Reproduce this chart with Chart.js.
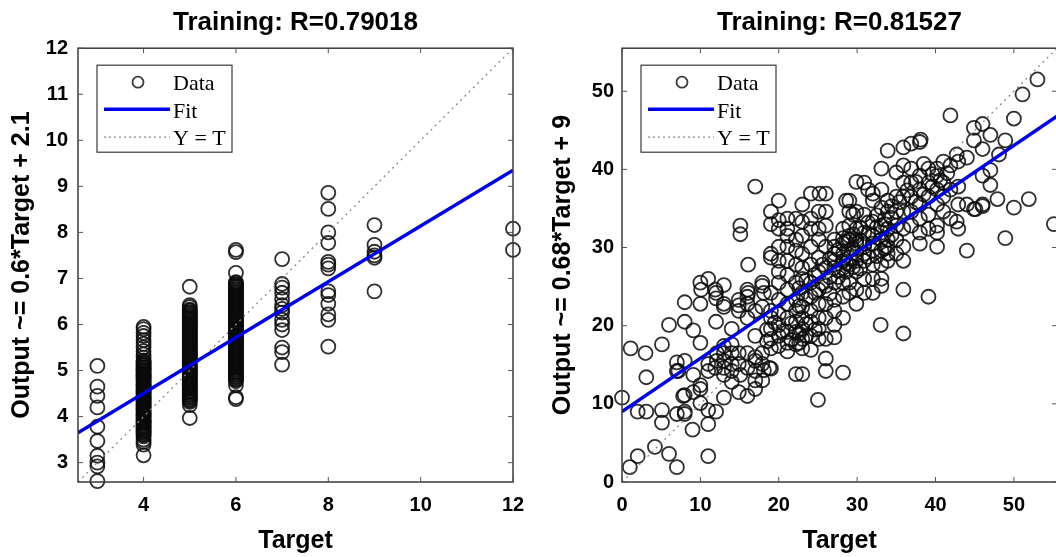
<!DOCTYPE html>
<html>
<head>
<meta charset="utf-8">
<script src="https://cdn.jsdelivr.net/npm/chart.js@4.4.0/dist/chart.umd.min.js"></script>
<style>
  html, body { margin: 0; padding: 0; background: #fff; overflow: hidden; width: 1056px; height: 557px; }
  #c1 { position: absolute; left: 0; top: 0; }
  #c2 { position: absolute; left: 528px; top: 0; }
</style>
</head>
<body>
<canvas id="c1" width="528" height="557"></canvas>
<canvas id="c2" width="540" height="557"></canvas>
<script>
const SANS = "'Liberation Sans', Arial, sans-serif";
const SERIF = "'Liberation Serif', 'Times New Roman', serif";

// ---- left panel ----
const leftTitle = 'Training: R=0.79018';
const leftYLabel = 'Output ~= 0.6*Target + 2.1';
const leftRange = [2.58, 12];
const leftXTicks = [4, 6, 8, 10, 12];
const leftYTicks = [3, 4, 5, 6, 7, 8, 9, 10, 11, 12];
const leftTargets = [3, 4, 5, 6, 7, 8, 9, 12];
const leftOutputs = [
  [5.1, 4.65, 4.45, 4.2, 3.78, 3.47, 3.15, 3.0, 2.92, 2.6],
  [5.95, 5.9, 5.82, 5.75, 5.66, 5.58, 5.5, 5.42, 5.35, 5.28,
   5.22, 5.2, 5.17, 5.15, 5.12, 5.1, 5.07, 5.05, 5.02, 5.0, 4.97, 4.95, 4.92, 4.9, 4.87, 4.85, 4.82, 4.8,
   4.77, 4.75, 4.72, 4.7, 4.67, 4.65, 4.62, 4.6, 4.57, 4.55, 4.52, 4.5, 4.47, 4.45, 4.42, 4.4, 4.37, 4.35,
   4.32, 4.3, 4.27, 4.25, 4.22, 4.2, 4.17, 4.15, 4.12, 4.1, 4.07, 4.05, 4.02, 4.0, 3.97, 3.95, 3.92, 3.9,
   3.87, 3.85, 3.82, 3.8, 3.77, 3.75, 3.72, 3.7, 3.67, 3.65, 3.62, 3.6, 3.57,
   3.5, 3.45, 3.39, 3.16],
  [6.82, 6.42, 6.38,
   6.32, 6.3, 6.27, 6.25, 6.22, 6.2, 6.17, 6.15, 6.12, 6.1, 6.07, 6.05, 6.02, 6.0, 5.97, 5.95, 5.92, 5.9,
   5.87, 5.85, 5.82, 5.8, 5.77, 5.75, 5.72, 5.7, 5.67, 5.65, 5.62, 5.6, 5.57, 5.55, 5.52, 5.5, 5.47, 5.45,
   5.42, 5.4, 5.37, 5.35, 5.32, 5.3, 5.27, 5.25, 5.22, 5.2, 5.17, 5.15, 5.12, 5.1, 5.07, 5.05, 5.02, 5.0,
   4.97, 4.95, 4.92, 4.9, 4.87, 4.85, 4.82, 4.8, 4.77, 4.75, 4.72, 4.7, 4.67, 4.65, 4.62, 4.6, 4.57, 4.55,
   4.52, 4.5, 4.47, 4.45, 4.42, 4.4, 4.37, 4.35, 4.32,
   4.25, 3.97],
  [7.62, 7.57, 7.12,
   6.92, 6.9, 6.87, 6.85, 6.82, 6.8, 6.77, 6.75, 6.72, 6.7, 6.67, 6.65, 6.62, 6.6, 6.57, 6.55, 6.52, 6.5,
   6.47, 6.45, 6.42, 6.4, 6.37, 6.35, 6.32, 6.3, 6.27, 6.25, 6.22, 6.2, 6.17, 6.15, 6.12, 6.1, 6.07, 6.05,
   6.02, 6.0, 5.97, 5.95, 5.92, 5.9, 5.87, 5.85, 5.82, 5.8, 5.77, 5.75, 5.72, 5.7, 5.67, 5.65, 5.62, 5.6,
   5.57, 5.55, 5.52, 5.5, 5.47, 5.45, 5.42, 5.4, 5.37, 5.35, 5.32, 5.3, 5.27, 5.25, 5.22, 5.2, 5.17, 5.15,
   5.12, 5.1, 5.07, 5.05, 5.02, 5.0, 4.97, 4.95, 4.92, 4.9, 4.87, 4.85, 4.82, 4.8, 4.77,
   4.68, 4.42, 4.38],
  [7.42, 6.88, 6.8, 6.69, 6.55, 6.42, 6.34, 6.26, 6.1, 6.0, 5.88, 5.5, 5.4, 5.13],
  [8.86, 8.51, 8.0, 7.77, 7.36, 7.3, 7.22, 6.72, 6.64, 6.45, 6.22, 6.1, 5.52],
  [8.16, 7.73, 7.58, 7.5, 7.45, 6.72],
  [8.08, 7.62]
];
const leftFit = [[2.58, 3.65], [12, 9.35]];

// ---- right panel ----
const rightTitle = 'Training: R=0.81527';
const rightYLabel = 'Output ~= 0.68*Target + 9';
const rightRange = [0, 55.5];
const rightXTicks = [0, 10, 20, 30, 40, 50];
const rightYTicks = [0, 10, 20, 30, 40, 50];
const rightPoints = [
  [0,10.8],[1,1.9],[2,3.3],[1.1,17.1],[3,16.5],[3.1,13.4],[2,9],[3.1,9],[4.2,4.5],[5.1,17.6],[5.1,9.2],
  [5.1,7.6],[6,20.1],[6,3.6],[7,1.9],[7,15.3],[7,14.2],[7,8.7],[8,8.7],[8,11.1],[8,23],[8,20.5],[9,6.7],
  [9.1,19.4],[10,25.5],[10.1,24.6],[10,22.8],[10,17.8],[10,11.9],[10,10.1],[11,3.3],[11,7.4],[11,26],
  [12,20.5],[12,9],[12,24.2],[13,10.8],[13,25.2],[13,22.8],[14,19.6],[14.9,11.5],[15.1,32.8],[15.1,31.7],
  [16,11],[16.1,27.8],[17,37.8],[17,11.9],[17,13],[18.1,14.3],[17,16],[17.9,25.5],[19,34.6],[19,33],
  [20,36],[20,33.5],[19,28.7],[19,14.5],[21.1,32.4],[21.1,31.5],[22.2,13.8],[23,13.8],[23,35.5],
  [24.1,36.9],[25.2,36.9],[26,36.9],[25,10.5],[26,15.8],[26,14.2],[28.2,14],[27.1,18.5],[29,36],
  [29.9,38.4],[30.9,38.3],[32,36.9],[33.1,37.4],[33,20.1],[33.9,42.4],[35,39.6],[35.9,42.8],[35.9,24.6],
  [35.9,19],[36.9,43.3],[38,43.5],[38.1,43.8],[39.1,23.7],[41.9,46.9],[42.7,41.9],[42.7,33.3],[42.9,32.4],
  [44,29.6],[44.9,45.3],[46,45.8],[46,42.6],[47,44.4],[47,39.9],[47,38],[47.9,36.2],[48.1,41.9],
  [48.9,43.7],[48.9,31.2],[50,46.5],[50,35.1],[51.1,49.6],[51.9,36.2],[53,51.5],[55.1,33],[46,35.3],
  [45.1,34.9],[7.8,11],[8,9],[9.1,13.7],[9.1,11.5],[10,12.4],
  [11.9,24.6],[12,23.5],[13,22.4],[12.1,16.5],[13,16.5],[13,15.5],[13,14.6],[13,13.7],[14,15.1],
  [14,14.2],[14,12.8],[14.9,16.5],[14.9,15.1],[15.1,13.7],[16,14.6],[16,16.5],[16,22.8],[16.1,24.2],
  [16,21],[14.9,22.6],[14.9,21.9],[12.1,15.5],[11,15.1],[11,14.2],[11.9,14.6],[14,16.5],[14,17.6],
  [13,17.4],[17,14.2],[17,15.5],[17.9,16.5],[17.9,15.1],[17.9,13],[18.8,14.6],[17.9,25.1],[17.9,22.4],
  [17,21.9],[17,18.7],[8,15.5],[7.2,14.2],[11,9.2],[16,24.6],[16,23.7],[14.9,23.3],[18.1,24.2],
  [19,24.2],[19,21.9],[19,21],[19,19.6],[19,18.3],[19,17.1],[20,26.9],[20,25.5],[20,23.3],[20,21.5],
  [20,20.1],[20,18.7],[20,17.4],[20,30.1],[20,28.3],[21.1,26.5],[21.1,24.6],[21.1,22.8],[21.1,21],
  [21.1,19.2],[21.1,17.8],[21.1,16.7],[21.1,33.7],[21.1,30.1],[22.2,27.8],[22.2,25.5],[22.2,23.3],
  [22.2,21.9],[22.2,20.5],[22.2,19.2],[22.2,17.6],[22.2,33.7],[23,33.3],[23,29.2],[23,27.4],[23,26],
  [23,24.2],[23,22.4],[23,21],[23,19.6],[23,18.3],[23,17.1],[24.1,30.1],[24.1,27.8],[24.1,25.5],
  [24.1,23.7],[24.1,21.9],[24.1,20.5],[24.1,18.7],[24.1,16.9],[24.1,33.7],[25.1,34.6],[25.1,32.4],
  [25.1,31],[25.1,28.7],[25.1,26.9],[25.1,24.6],[25.1,22.8],[25.1,21],[25.1,19.6],[25.1,18.3],
  [26,34.6],[26,32.8],[26,30.1],[26,27.4],[26,25.1],[26,22.8],[26,21],[26,18.3],[27.1,31],[27.1,29.2],
  [27.1,27.4],[27.1,25.5],[27.1,23.3],[27.1,21.9],[27.1,20.1],[28.2,32.4],[28.2,30.5],[28.2,29.2],
  [28.2,27.4],[28.2,25.5],[28.2,23.7],[28.2,21],[29,34.6],[29,32.8],[29,31],[29,29.6],[29,27.8],
  [29,25.5],[29,24.2],[29.9,34.6],[29.9,32.4],[29.9,30.5],[29.9,29.2],[29.9,26.9],[29.9,24.6],
  [29.9,22.8],[30.9,34.2],[30.9,31.9],[30.9,30.1],[30.9,28.3],[30.9,26],[30.9,24.2],[32,33.3],
  [32,31.5],[32,29.6],[32,27.8],[32,26],[32,24.2],[33.1,32.8],[33.1,31],[33.1,29.6],[33.1,27.8],
  [33.1,26],[33.1,25.1],[33.1,40.1],[33.1,35.1],[33.9,34.6],[33.9,32.4],[33.9,30.1],[33.9,28.3],
  [35,36.5],[35,34.6],[35,32.8],[35,31],[35,29.2],[35.9,38.3],[35.9,36.5],[35.9,34.6],[35.9,32.4],
  [35.9,30.1],[35.9,28.3],[35.9,40.5],[36.9,40.1],[36.9,38.3],[36.9,36.5],[36.9,34.6],[36.9,32.8],
  [38,39.2],[38,37.4],[38,35.5],[38,33.7],[38,31.9],[38,30.5],[39.1,40.1],[39.1,38.3],[39.1,36.5],
  [39.1,34.2],[39.1,32.4],[40.2,40.1],[40.2,39.2],[40.2,37.4],[40.2,35.5],[40.2,32.8],[40.2,31.9],
  [40.2,30.1],[41,41],[41,38.3],[41,36.5],[41,34.6],[41.9,40.5],[41.9,37.4],[41.9,33.7],[42.9,41],
  [42.9,37.8],[42.9,35.5],[44,41.5],[44,35.5],[44.9,43.7],[44.9,34.9],[46,39.2],[46,35.5],
  [27.1,30.1],[28.2,31.2],[29,31.5],[29.9,31],[30.9,30.5],[32,30.5],[33.1,31.9],[33.9,31],[33.9,29.2],
  [27.1,28.3],[28.2,28.3],[29,28.7],[29.9,28.3],[30.9,29.2],[28.6,36],[31.4,37.4],[32,36],[33.9,36],
  [29.5,34.2],[19,29.2],[20,32.4],[22.2,31],[23,31.5],[24.1,32.4],[21.1,28.3],[22.2,29.6],
  [22.6,24.8],[23.5,25.8],[24.6,26.5],[25.6,27.8],[26.5,28.6],[27.6,29.7],[28.6,30.8],[29.5,31.7],
  [30.4,32.5],[31.4,33.2],[32.5,34.1],[33.5,33.6],[34.4,35.3],[26.5,26.2],[27.6,27],[28.6,28],
  [29.5,29.8],[30.4,30.9],[31.4,31.8],[32.5,32.6],[33.5,33],[22.6,22.5],[23.5,23.4],[24.6,24.2],
  [25.6,25.4],[26.5,24.1],[27.6,26.2],[28.6,26.9],[29.5,27.5],[30.4,27.3],[31.4,28.8],[32.5,28.9],
  [33.5,29.9],[34.4,31.6],[21.6,20.3],[22.6,19],[23.5,20.2],[24.6,19.5],[21.6,18.2],[22.6,17.8],
  [23.5,18.7],[20.5,19.3],[19.5,20.4],[18.5,19.5],[18.5,18],[37.5,35.8],[38.5,36.8],[39.6,37.8],
  [37.5,38.4],[36.4,37.3],[35.4,35.8],[34.4,33.8],[40.6,38.6],[41.5,39.5],[39.6,39.4],[38.5,40.7]
];
const rightFit = [[0, 9.0], [55.5, 46.8]];

// draws the matlab style box, inward ticks and legend
const matlabFrame = {
  id: 'matlabFrame',
  afterDatasetsDraw(chart) {
    const ctx = chart.ctx;
    const a = chart.chartArea;
    const xs = chart.scales.x;
    const ys = chart.scales.y;
    ctx.save();
    ctx.strokeStyle = '#3a3a3a';
    ctx.lineWidth = 1.5;
    ctx.strokeRect(a.left, a.top, a.right - a.left, a.bottom - a.top);

    ctx.lineWidth = 1;
    ctx.strokeStyle = '#555';
    const tl = 5;
    xs.ticks.forEach(t => {
      const px = xs.getPixelForValue(t.value);
      ctx.beginPath();
      ctx.moveTo(px, a.bottom); ctx.lineTo(px, a.bottom - tl);
      ctx.moveTo(px, a.top); ctx.lineTo(px, a.top + tl);
      ctx.stroke();
    });
    ys.ticks.forEach(t => {
      const py = ys.getPixelForValue(t.value);
      ctx.beginPath();
      ctx.moveTo(a.left, py); ctx.lineTo(a.left + tl, py);
      ctx.moveTo(a.right, py); ctx.lineTo(a.right - tl, py);
      ctx.stroke();
    });

    // legend box
    const bx = a.left + 19, by = a.top + 17, bw = 135, bh = 87;
    ctx.fillStyle = '#fff';
    ctx.fillRect(bx, by, bw, bh);
    ctx.strokeStyle = '#3a3a3a';
    ctx.lineWidth = 1.2;
    ctx.strokeRect(bx, by, bw, bh);

    ctx.strokeStyle = 'rgba(40,40,40,0.9)';
    ctx.lineWidth = 1.8;
    ctx.beginPath();
    ctx.arc(bx + 41, by + 17, 5.5, 0, Math.PI * 2);
    ctx.stroke();

    ctx.strokeStyle = '#0000f0';
    ctx.lineWidth = 3.5;
    ctx.beginPath();
    ctx.moveTo(bx + 7, by + 44); ctx.lineTo(bx + 73, by + 44);
    ctx.stroke();

    ctx.strokeStyle = '#8a8a8a';
    ctx.lineWidth = 1.2;
    ctx.setLineDash([2, 3]);
    ctx.beginPath();
    ctx.moveTo(bx + 7, by + 72); ctx.lineTo(bx + 73, by + 72);
    ctx.stroke();
    ctx.setLineDash([]);

    ctx.fillStyle = '#000';
    ctx.font = '22px ' + SERIF;
    ctx.textAlign = 'left';
    ctx.textBaseline = 'alphabetic';
    chart.data.datasets.forEach((ds, i) => {
      ctx.fillText(ds.label, bx + 76, by + 25 + i * 27.5);
    });
    ctx.restore();
  }
};

function createRegressionChart(canvasId, panel) {
  const ctx = document.getElementById(canvasId).getContext('2d');
  const lo = panel.range[0];
  const hi = panel.range[1];
  const tickFont = { family: SANS, size: 20, weight: 'bold' };
  const labelFont = { family: SANS, size: 25, weight: 'bold' };

  return new Chart(ctx, {
    type: 'scatter',
    data: {
      datasets: [
        {
          label: 'Data',
          data: panel.points,
          pointRadius: 7,
          pointBorderWidth: 1.8,
          pointBorderColor: 'rgba(10,10,10,0.85)',
          pointBackgroundColor: 'rgba(0,0,0,0)',
          clip: false,
          order: 3
        },
        {
          label: 'Fit',
          data: panel.fit.map(p => ({ x: p[0], y: p[1] })),
          showLine: true,
          pointRadius: 0,
          borderColor: '#0000f0',
          borderWidth: 3.5,
          order: 1
        },
        {
          label: 'Y = T',
          data: [{ x: lo, y: lo }, { x: hi, y: hi }],
          showLine: true,
          pointRadius: 0,
          borderColor: '#8a8a8a',
          borderWidth: 1.3,
          borderDash: [2, 4],
          order: 2
        }
      ]
    },
    options: {
      responsive: false,
      animation: false,
      events: [],
      layout: { padding: { left: 0, right: panel.padRight, top: 0, bottom: 0 } },
      plugins: {
        legend: { display: false },
        tooltip: { enabled: false },
        title: {
          display: true,
          text: panel.title,
          fullSize: false,
          color: '#000',
          font: { family: SANS, size: 26, weight: 'bold' },
          padding: { top: 7, bottom: 10 }
        }
      },
      scales: {
        x: {
          type: 'linear',
          min: lo,
          max: hi,
          afterBuildTicks: s => { s.ticks = panel.xTicks.map(v => ({ value: v })); },
          afterFit: s => { s.height = 75; s.paddingLeft = 0; s.paddingRight = 0; },
          grid: { display: false, drawTicks: false },
          border: { display: false },
          ticks: { color: '#000', font: tickFont, padding: 11, maxRotation: 0, autoSkip: false },
          title: { display: true, text: 'Target', color: '#000', font: labelFont, padding: { top: 0, bottom: 1 } }
        },
        y: {
          type: 'linear',
          min: lo,
          max: hi,
          afterBuildTicks: s => { s.ticks = panel.yTicks.map(v => ({ value: v })); },
          afterFit: s => { s.width = panel.yWidth; s.paddingTop = 0; s.paddingBottom = 0; },
          grid: { display: false, drawTicks: false },
          border: { display: false },
          ticks: { color: '#000', font: tickFont, padding: panel.tickPad, autoSkip: false },
          title: { display: true, text: panel.yLabel, color: '#000', font: labelFont, padding: { top: panel.yTitlePad, bottom: 0 } }
        }
      }
    },
    plugins: [matlabFrame]
  });
}

const leftPoints = [];
leftTargets.forEach((t, i) => {
  leftOutputs[i].forEach(v => leftPoints.push({ x: t, y: v }));
});

createRegressionChart('c1', {
  title: leftTitle, yLabel: leftYLabel, range: leftRange,
  xTicks: leftXTicks, yTicks: leftYTicks,
  points: leftPoints, fit: leftFit,
  yWidth: 78, padRight: 15, tickPad: 10, yTitlePad: 7
});

createRegressionChart('c2', {
  title: rightTitle, yLabel: rightYLabel, range: rightRange,
  xTicks: rightXTicks, yTicks: rightYTicks,
  points: rightPoints.map(p => ({ x: p[0], y: p[1] })), fit: rightFit,
  yWidth: 94, padRight: 11, tickPad: 8, yTitlePad: 20
});
</script>
</body>
</html>
